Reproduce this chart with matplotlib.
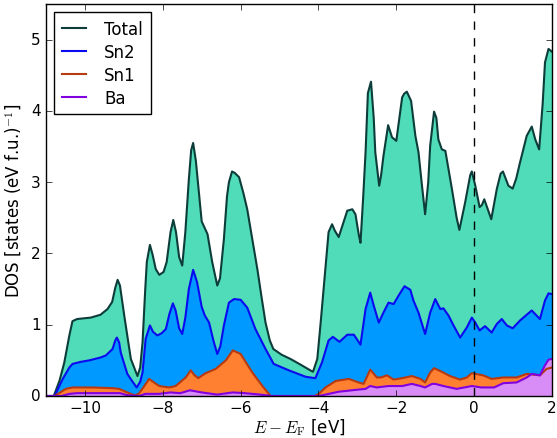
import numpy as np
import matplotlib
matplotlib.use("Agg")
import matplotlib.pyplot as plt

# energies (eV, relative to E_F) and DOS values
tot_e = [-11.0, -10.80, -10.65, -10.53, -10.40, -10.32, -10.20, -9.85, -9.60, -9.42, -9.30, -9.22,
         -9.16, -9.10, -8.99, -8.82, -8.72, -8.65, -8.58, -8.52, -8.45, -8.41, -8.33, -8.26, -8.18,
         -8.09, -7.98, -7.90, -7.80, -7.73, -7.66, -7.58, -7.50, -7.42, -7.33, -7.27, -7.22, -7.15,
         -7.08, -7.00, -6.90, -6.85, -6.73, -6.60, -6.53, -6.43, -6.35, -6.30, -6.22, -6.15, -6.04,
         -5.93, -5.83, -5.70, -5.57, -5.46, -5.36, -5.25, -5.16, -4.95, -4.72, -4.46, -4.21, -4.14,
         -4.03, -3.94, -3.86, -3.78, -3.74, -3.65, -3.58, -3.48, -3.38, -3.26, -3.13, -3.05, -2.96,
         -2.92, -2.85, -2.79, -2.73, -2.65, -2.58, -2.54, -2.44, -2.39, -2.33, -2.21, -2.11, -2.00,
         -1.92, -1.85, -1.80, -1.73, -1.62, -1.51, -1.43, -1.34, -1.26, -1.18, -1.13, -1.03, -0.97,
         -0.92, -0.83, -0.74, -0.57, -0.45, -0.38, -0.23, -0.10, -0.06, 0.03, 0.14, 0.20, 0.26,
         0.35, 0.44, 0.58, 0.68, 0.74, 0.88, 0.99, 1.08, 1.18, 1.35, 1.48, 1.57, 1.67, 1.76, 1.82,
         1.91, 2.00]
tot_dos = [0, 0, 0.22, 0.47, 0.85, 1.05, 1.08, 1.10, 1.14, 1.22, 1.32, 1.52,
           1.63, 1.55, 1.13, 0.52, 0.38, 0.28, 0.40, 0.75, 1.50, 1.88, 2.12, 1.98, 1.78,
           1.70, 1.74, 1.88, 2.30, 2.47, 2.30, 1.95, 1.83, 2.30, 3.04, 3.45, 3.55, 3.30,
           2.90, 2.45, 2.33, 2.27, 1.88, 1.55, 1.65, 2.20, 2.80, 3.00, 3.15, 3.13, 3.07,
           2.85, 2.62, 2.20, 1.78, 1.38, 1.03, 0.78, 0.66, 0.58, 0.52, 0.44, 0.36, 0.34,
           0.52, 1.05, 1.55, 2.05, 2.30, 2.41, 2.32, 2.23, 2.40, 2.60, 2.62, 2.55, 2.25,
           2.15, 2.80, 3.42, 4.25, 4.41, 3.90, 3.42, 2.95, 3.10, 3.37, 3.80, 3.63, 3.58,
           3.90, 4.19, 4.24, 4.27, 4.14, 3.65, 3.42, 2.95, 2.55, 3.00, 3.51, 3.99, 3.90,
           3.60, 3.46, 3.44, 2.90, 2.50, 2.33, 2.72, 3.10, 3.15, 2.95, 2.65, 2.68, 2.76,
           2.62, 2.48, 2.90, 3.12, 3.15, 2.95, 2.91, 3.05, 3.28, 3.65, 3.78, 3.60, 3.46, 4.10, 4.68,
           4.87, 4.83]

sn2_e = [-11.0, -10.78, -10.57, -10.40, -10.32, -10.10, -9.89, -9.60, -9.46, -9.29, -9.22, -9.18,
         -9.12, -9.08, -8.91, -8.80, -8.67, -8.58, -8.52, -8.44, -8.33, -8.25, -8.14, -8.03, -7.92,
         -7.83, -7.74, -7.67, -7.58, -7.50, -7.42, -7.33, -7.22, -7.12, -7.00, -6.92, -6.81, -6.70,
         -6.60, -6.52, -6.43, -6.30, -6.17, -6.00, -5.83, -5.62, -5.36, -5.15, -4.76, -4.33, -4.08,
         -3.91, -3.74, -3.63, -3.46, -3.26, -3.09, -2.92, -2.79, -2.67, -2.58, -2.45, -2.33, -2.20,
         -2.07, -1.94, -1.79, -1.64, -1.56, -1.43, -1.26, -1.13, -1.00, -0.87, -0.79, -0.66, -0.53,
         -0.36, -0.19, -0.06, 0.03, 0.14, 0.28, 0.45, 0.58, 0.71, 0.84, 0.99, 1.18, 1.35, 1.48,
         1.69, 1.82, 1.91, 2.00]
sn2_dos = [0, 0, 0.24, 0.40, 0.45, 0.48, 0.50, 0.54, 0.57, 0.66, 0.78, 0.82,
           0.75, 0.61, 0.31, 0.22, 0.12, 0.20, 0.33, 0.80, 0.99, 0.90, 0.85, 0.88, 0.94,
           1.15, 1.30, 1.20, 0.95, 0.87, 1.10, 1.50, 1.77, 1.60, 1.25, 1.13, 1.03, 0.78,
           0.59, 0.70, 0.99, 1.31, 1.36, 1.35, 1.24, 0.94, 0.66, 0.45, 0.36, 0.27, 0.25,
           0.47, 0.78, 0.83, 0.76, 0.86, 0.86, 0.72, 1.22, 1.45, 1.27, 1.03, 1.17, 1.31,
           1.29, 1.41, 1.54, 1.49, 1.34, 1.17, 0.87, 1.17, 1.36, 1.22, 1.23, 1.13, 0.99,
           0.82, 0.96, 1.10, 1.03, 0.92, 0.98, 0.89, 1.01, 1.08, 0.99, 0.95, 1.06, 1.14, 1.20,
           1.08, 1.34, 1.44, 1.43]

sn1_e = [-11.0, -10.78, -10.49, -10.32, -9.80, -9.29, -9.12, -8.91, -8.73, -8.62, -8.50, -8.35,
         -8.20, -8.09, -7.84, -7.67, -7.41, -7.28, -7.20, -7.09, -6.90, -6.64, -6.38, -6.20, -6.00,
         -5.70, -5.44, -5.23, -4.10, -3.99, -3.82, -3.56, -3.22, -2.97, -2.84, -2.67, -2.50, -2.40,
         -2.24, -2.07, -1.85, -1.60, -1.38, -1.26, -1.13, -1.03, -0.87, -0.62, -0.36, -0.19, -0.06,
         0.23, 0.45, 0.75, 1.09, 1.35, 1.69, 1.86, 2.00]
sn1_dos = [0, 0, 0.10, 0.12, 0.12, 0.11, 0.10, 0.05, 0.01, 0.03, 0.12, 0.24,
           0.18, 0.14, 0.12, 0.14, 0.26, 0.36, 0.30, 0.25, 0.32, 0.38, 0.50, 0.64, 0.59,
           0.33, 0.14, 0.0, 0.0, 0.03, 0.12, 0.21, 0.24, 0.19, 0.17, 0.37, 0.26, 0.26,
           0.29, 0.23, 0.25, 0.28, 0.24, 0.19, 0.33, 0.39, 0.35, 0.28, 0.23, 0.26, 0.32,
           0.29, 0.24, 0.26, 0.26, 0.31, 0.29, 0.38, 0.40]

ba_e = [-11.0, -10.6, -10.40, -10.2, -9.5, -9.1, -8.9, -8.6, -8.45, -8.1, -7.8, -7.55, -7.3,
        -7.0, -6.6, -6.2, -5.9, -5.5, -5.2, -4.0, -3.82, -3.48, -2.97, -2.79, -2.67, -2.50,
        -2.20, -1.85, -1.60, -1.38, -1.26, -1.08, -1.00, -0.79, -0.45, -0.06, 0.18, 0.51, 0.75,
        1.09, 1.35, 1.48, 1.69, 1.82, 1.91, 2.00]
ba_dos = [0, 0, 0.03, 0.04, 0.04, 0.04, 0.01, 0.0, 0.03, 0.03, 0.05, 0.04, 0.08,
          0.05, 0.02, 0.05, 0.04, 0.02, 0.0, 0.0, 0.02, 0.06, 0.09, 0.10, 0.14, 0.12,
          0.14, 0.14, 0.17, 0.14, 0.12, 0.17, 0.17, 0.14, 0.10, 0.14, 0.12, 0.12, 0.18,
          0.19, 0.26, 0.31, 0.29, 0.43, 0.51, 0.52]

plt.style.use('classic')
plt.rcParams['figure.facecolor'] = 'white'
plt.rcParams['font.size'] = 12

fig = plt.figure(figsize=(5.57, 4.39), dpi=100)
ax = fig.add_axes([46/557, 42/439, 506/557, 392/439])

series = [
    ("Total", tot_e, tot_dos, '#50dcb8', '#0d3d3a'),
    ("Sn2", sn2_e, sn2_dos, '#0099ff', '#0a0af0'),
    ("Sn1", sn1_e, sn1_dos, '#ff8030', '#b83a10'),
    ("Ba", ba_e, ba_dos, '#d88cf5', '#8000e0'),
]
for name, e, d, fc, lc in series:
    ax.fill_between(e, d, 0, facecolor=fc, edgecolor='none')
    ax.plot(e, d, color=lc, lw=1.5, label=name)

ax.axvline(0, color='k', ls='--', lw=1)

ax.set_xlim(-11, 2)
ax.set_ylim(0, 5.5)
ax.set_xticks([-10, -8, -6, -4, -2, 0, 2])
ax.set_yticks([0, 1, 2, 3, 4, 5])
ax.tick_params(labelsize=11)
ax.tick_params(axis='x', pad=3)
ax.set_xlabel(r'$E - E_\mathrm{F}$ [eV]', fontsize=12, labelpad=1)
ax.set_ylabel(r'DOS [states (eV f.u.)$^{-1}$]', fontsize=12)

ax.legend(loc='upper left', fontsize=12, handlelength=1.45, handletextpad=1.1,
          labelspacing=0.3, borderpad=0.45, numpoints=1)

fig.savefig('out.png', dpi=100, facecolor='white')
